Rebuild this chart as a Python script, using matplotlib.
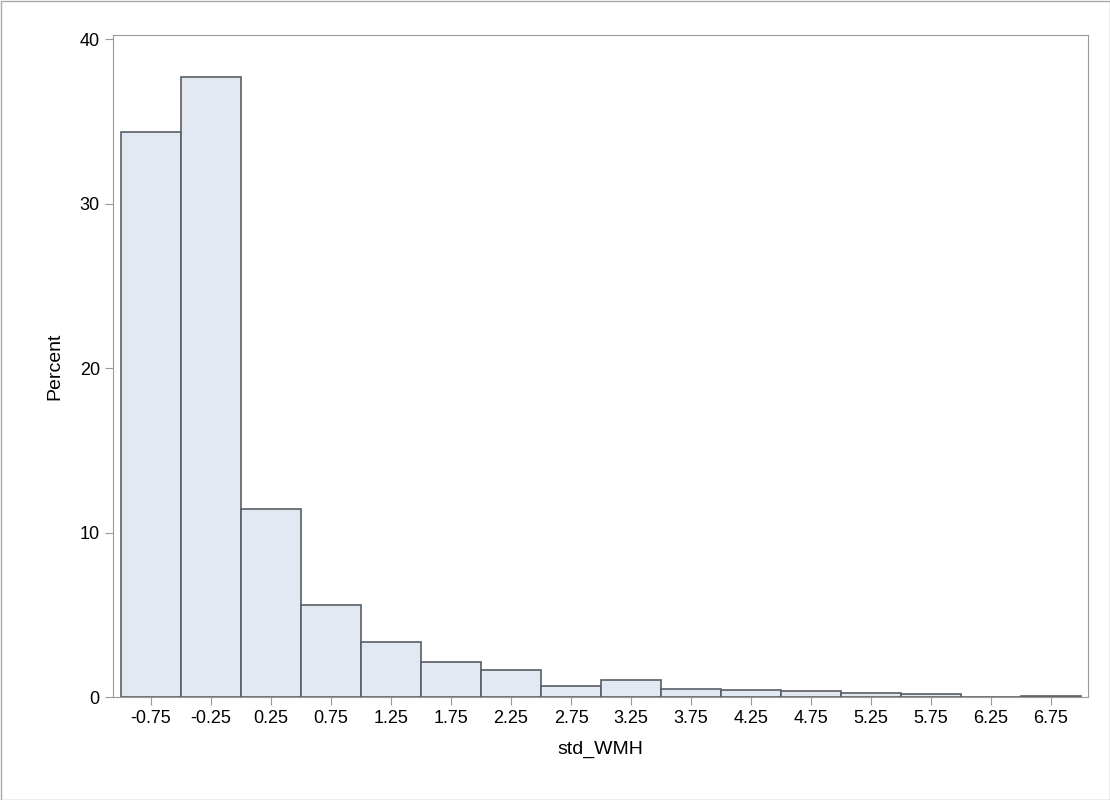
import matplotlib
matplotlib.use("Agg")
import matplotlib.pyplot as plt

centers = [-0.75,-0.25,0.25,0.75,1.25,1.75,2.25,2.75,3.25,3.75,4.25,4.75,5.25,5.75,6.25,6.75]
percent = [34.35,37.7,11.43,5.6,3.34,2.13,1.64,0.69,1.05,0.5,0.44,0.38,0.26,0.16,0.0,0.06]
tick_labels = ["-0.75","-0.25","0.25","0.75","1.25","1.75","2.25","2.75","3.25","3.75","4.25","4.75","5.25","5.75","6.25","6.75"]

plt.rcParams['font.family'] = ['Liberation Sans', 'DejaVu Sans']
fig = plt.figure(figsize=(11.1, 8.0), dpi=100)
ax = fig.add_axes([113/1110, 1-697/800, (1088-113)/1110, (697-35)/800])
ax.bar(centers, percent, width=0.5, color='#e3e9f2', edgecolor='#5a5e66', linewidth=1.2)
ax.set_xlim(-1.067, 7.058)
ax.set_ylim(0, 40.25)
ax.set_xticks(centers)
ax.set_xticklabels(tick_labels)
ax.set_yticks([0,10,20,30,40])
for s in ax.spines.values():
    s.set_color('#999999')
ax.tick_params(colors='#999999', labelcolor='black', labelsize=13, length=6)
ax.set_xlabel('std_WMH', fontsize=14, labelpad=10)
ax.set_ylabel('Percent', fontsize=14, labelpad=12)
fig.patches.append(plt.Rectangle((0.5/1110, 0.5/800), 1-1/1110, 1-1/800, transform=fig.transFigure, fill=False, edgecolor='#aaaaaa', linewidth=1))
fig.savefig('out.png')
